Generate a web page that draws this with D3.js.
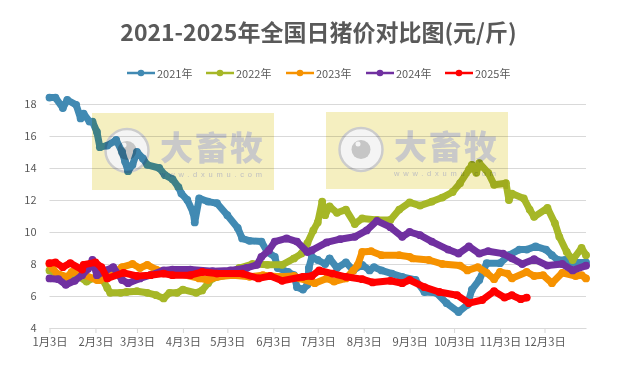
<!DOCTYPE html>
<html>
<head>
<meta charset="utf-8">
<script src="https://cdn.jsdelivr.net/npm/d3@7"></script>
<style>
  html, body { margin: 0; padding: 0; background: #fff; }
  text { font-family: "Noto Sans CJK SC", "Noto Sans", sans-serif; fill: #595959; }
</style>
</head>
<body>
<div id="chart"></div>
<script>
// values: [days since 1月3日, price]
const s2021 = [[0,18.4],[4,18.4],[9,17.75],[12,18.25],[18,17.95],[21,17.1],[23,17.4],[27,16.9],[29,16.9],[32,16.25],[34,15.3],[39,15.4],[45,15.75],[49,15],[51,14.4],[53,13.8],[56,14.2],[59,15],[63,14.6],[66,14.2],[74,14],[78,13.55],[83,13.3],[87,12.8],[89,12.4],[93,12],[97,11.2],[98,10.6],[101,12.1],[107,11.9],[113,11.8],[120,11.05],[127,10.25],[130,9.6],[135,9.45],[143,9.4],[147,8.75],[152,8.45],[154,7.75],[161,7.5],[165,7.3],[167,6.55],[171,6.4],[174,6.7],[175,7.75],[177,8.45],[181,8.25],[186,8],[189,8.35],[194,7.75],[200,8.1],[205,7.6],[211,7.95],[216,7.6],[219,7.8],[224,7.6],[231,7.4],[238,7.2],[247,7],[253,6.25],[261,6.2],[268,5.55],[276,5],[282,5.45],[285,6.4],[290,7],[295,8.05],[304,8.05],[310,8.55],[317,8.9],[322,8.9],[328,9.1],[335,8.9],[339,8.55],[343,8.25],[348,8.25],[353,8.1],[362,8.1]];
const s2022 = [[0,7.6],[7,7.3],[14,7.1],[20,7.2],[25,6.9],[29,7.1],[36,7],[39,6.5],[41,6.2],[48,6.2],[52,6.25],[59,6.3],[66,6.2],[72,6.05],[77,5.85],[81,6.2],[86,6.2],[90,6.4],[99,6.2],[103,6.35],[107,6.8],[110,7.1],[120,7.3],[128,7.75],[137,8],[147,7.95],[157,7.95],[165,8.35],[170,8.65],[174,9.3],[178,10.1],[181,10.6],[184,11.9],[186,11.05],[189,11.6],[194,11.2],[200,11.4],[206,10.5],[211,10.85],[221,10.75],[230,10.75],[236,11.4],[243,11.85],[250,11.65],[258,11.9],[265,12.15],[272,12.5],[277,13.05],[283,13.9],[285,14.2],[288,13.7],[290,14.3],[296,13.7],[300,12.95],[308,13.05],[310,12],[312,12.4],[320,12.1],[324,11.4],[327,10.95],[336,11.5],[341,10.55],[344,9.7],[349,8.75],[353,8.25],[359,9],[362,8.55]];
const s2023 = [[0,8],[2,7.75],[5,7.4],[12,7.2],[15,7.5],[21,7.4],[32,7],[34,7],[41,7.3],[49,7.8],[56,8],[61,7.75],[66,7.95],[72,7.65],[77,7.5],[83,7.5],[101,7.1],[107,7],[113,7.2],[124,7.3],[135,7.2],[144,7.3],[155,7.2],[165,7.25],[169,7.1],[179,6.8],[187,7.1],[192,6.9],[200,7.1],[205,7.6],[208,7.95],[211,8.75],[217,8.8],[224,8.55],[236,8.55],[243,8.45],[245,8.35],[256,8.25],[265,8],[277,7.9],[282,7.6],[289,7.8],[295,7.45],[300,7.05],[304,7.5],[309,7.4],[312,7.1],[322,7.5],[327,7.25],[333,7.3],[339,6.8],[346,7.45],[355,7.25],[359,7.3],[362,7.1]];
const s2024 = [[0,7.1],[6,7.05],[11,6.7],[17,6.95],[22,7.3],[26,7.7],[29,8.25],[32,7.3],[38,7.6],[43,7.8],[49,7],[53,6.8],[61,7.1],[68,7.3],[77,7.6],[83,7.65],[95,7.65],[110,7.55],[122,7.6],[133,7.75],[140,7.95],[143,8.45],[148,8.85],[152,9.4],[160,9.6],[167,9.4],[174,8.75],[177,8.85],[187,9.35],[196,9.55],[206,9.7],[214,10.1],[221,10.7],[230,10.3],[238,9.7],[243,10],[250,9.8],[258,9.4],[269,8.9],[276,8.65],[283,9.1],[290,8.65],[296,8.8],[306,8.65],[312,8.35],[319,8],[327,8.3],[336,7.9],[346,8],[353,7.6],[362,7.9]];
const s2025 = [[0,8.05],[4,8.1],[9,7.8],[14,8.05],[22,7.65],[23,7.95],[31,8.1],[35,7.8],[39,7.1],[50,7.45],[59,7.25],[68,7.3],[77,7.4],[83,7.3],[95,7.3],[103,7.5],[113,7.4],[130,7.4],[141,7.1],[149,7.25],[157,6.95],[171,7.2],[177,7.25],[182,7.6],[191,7.4],[200,7.2],[211,7.05],[218,6.85],[230,6.95],[238,6.8],[243,7],[253,6.55],[263,6.25],[275,6.05],[283,5.55],[292,5.75],[300,6.3],[307,5.9],[312,6.05],[318,5.8],[322,5.9]];

const seriesNames = ["2021年", "2022年", "2023年", "2024年", "2025年"];
const seriesColors = ["#418ab3", "#a6b727", "#f69200", "#7030a0", "#ff0000"];
const yTicks = [4, 6, 8, 10, 12, 14, 16, 18];
const xLabels = ["1月3日", "2月3日", "3月3日", "4月3日", "5月3日", "6月3日", "7月3日", "8月3日", "9月3日", "10月3日", "11月3日", "12月3日"];

// set the dimensions and margins of the graph
const width = 623;
const height = 365;
const margin = {top: 104, right: 37, bottom: 37, left: 49.5};

const svg = d3.select("#chart")
  .append("svg")
  .attr("width", width)
  .attr("height", height)
  .style("display", "block");

const start = new Date(Date.UTC(2021, 0, 3));
const x = d3.scaleUtc()
  .domain([start, new Date(Date.UTC(2021, 11, 31))])
  .range([margin.left, width - margin.right]);
const y = d3.scaleLinear()
  .domain([4, 18])
  .range([height - margin.bottom, margin.top]);

// title
svg.append("text")
  .attr("x", 318.5)
  .attr("y", 41)
  .attr("text-anchor", "middle")
  .style("font-size", "23px")
  .style("font-weight", 700)
  .text("2021-2025年全国日猪价对比图(元/斤)");

// gridlines + y labels
const yAxis = svg.append("g")
  .attr("transform", `translate(${margin.left},0)`)
  .call(d3.axisLeft(y).tickValues(yTicks).tickSize(-(width - margin.left - margin.right)).tickPadding(13).tickFormat(d3.format("d")));
yAxis.select(".domain").remove();
yAxis.selectAll("line").attr("stroke", "#d9d9d9").attr("stroke-width", 1);
yAxis.selectAll("text").style("font-size", "11px").style("fill", "#595959");

// x axis
const xAxis = svg.append("g")
  .attr("transform", `translate(0,${height - margin.bottom})`)
  .call(d3.axisBottom(x)
    .tickValues(xLabels.map((d, i) => new Date(Date.UTC(2021, i, 3))))
    .tickSize(5)
    .tickSizeOuter(0)
    .tickPadding(5)
    .tickFormat((d, i) => xLabels[i]));
xAxis.select(".domain").attr("stroke", "#d9d9d9");
xAxis.selectAll("line").attr("stroke", "#d9d9d9");
xAxis.selectAll("text").style("font-size", "11.3px").style("fill", "#595959");

// the lines
const line = d3.line()
  .x(d => x(d3.utcDay.offset(start, d[0])))
  .y(d => y(d[1]));

const allSeries = [s2021, s2022, s2023, s2024, s2025];
allSeries.forEach((values, i) => {
  const g = svg.append("g");
  g.append("path")
    .datum(values)
    .attr("fill", "none")
    .attr("stroke", seriesColors[i])
    .attr("stroke-width", 7)
    .attr("stroke-linejoin", "round")
    .attr("stroke-linecap", "round")
    .attr("d", line);
  g.selectAll("circle")
    .data(values)
    .join("circle")
    .attr("cx", d => x(d3.utcDay.offset(start, d[0])))
    .attr("cy", d => y(d[1]))
    .attr("r", 3.9)
    .attr("fill", seriesColors[i]);
});

// legend
const legendX = [127, 206, 286, 366, 445];
const legend = svg.append("g")
  .selectAll("g")
  .data(seriesNames)
  .join("g")
  .attr("transform", (d, i) => `translate(${legendX[i]},73)`);
legend.append("line")
  .attr("x2", 28)
  .attr("stroke", (d, i) => seriesColors[i])
  .attr("stroke-width", 2.5);
legend.append("circle")
  .attr("cx", 14)
  .attr("r", 3.3)
  .attr("fill", (d, i) => seriesColors[i]);
legend.append("text")
  .attr("x", 30)
  .attr("y", 4.5)
  .style("font-size", "11px")
  .text(d => d);

// watermarks sit over the chart and tint it
const blur = svg.append("defs").append("filter").attr("id", "soft");
blur.append("feGaussianBlur").attr("stdDeviation", 0.7);

const marks = [{x: 92, y: 113}, {x: 326, y: 112}];
const wm = svg.append("g")
  .style("mix-blend-mode", "multiply")
  .selectAll("g")
  .data(marks)
  .join("g")
  .attr("transform", d => `translate(${d.x},${d.y})`);
wm.append("rect")
  .attr("width", 182)
  .attr("height", 77)
  .attr("fill", "#f5efc0")
  .attr("filter", "url(#soft)");
wm.append("circle")
  .attr("cx", 35)
  .attr("cy", 37.5)
  .attr("r", 21.5)
  .attr("fill", "#f4f4f4")
  .attr("stroke", "#cccccc")
  .attr("stroke-width", 2.5);
wm.append("circle")
  .attr("cx", 35)
  .attr("cy", 37.5)
  .attr("r", 9.5)
  .attr("fill", "#c6c6c6");
wm.append("circle")
  .attr("cx", 32)
  .attr("cy", 32)
  .attr("r", 2.5)
  .attr("fill", "#f4f4f4");
wm.append("text")
  .attr("x", 68)
  .attr("y", 47)
  .attr("textLength", 103)
  .attr("lengthAdjust", "spacing")
  .style("font-size", "33px")
  .style("font-weight", 900)
  .style("fill", "#c9c9c9")
  .text("大畜牧");
wm.append("text")
  .attr("x", 68)
  .attr("y", 63.5)
  .attr("textLength", 102)
  .style("font-size", "7.5px")
  .style("font-family", "'Liberation Sans', sans-serif")
  .style("fill", "#c0c0c0")
  .text("www.dxumu.com");
</script>
</body>
</html>
